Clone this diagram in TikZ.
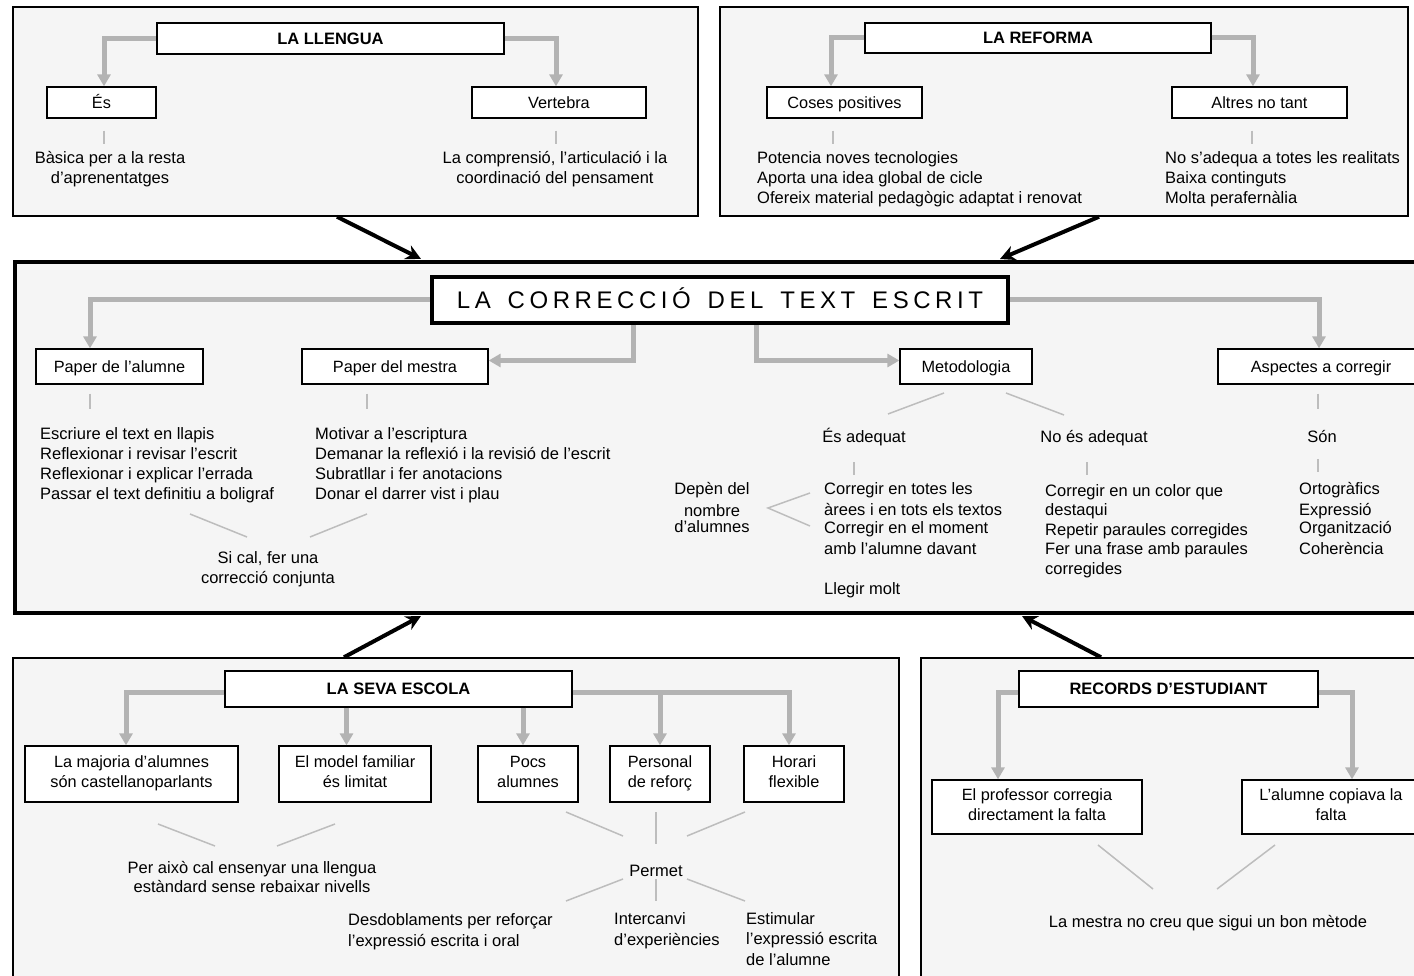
\documentclass[tikz,border=0pt]{standalone}
\usepackage{fontspec}
\setmainfont{Liberation Sans}
\newfontfamily\titlefont[LetterSpace=19,WordSpace=1.5]{Liberation Sans}
\usetikzlibrary{arrows.meta}

\definecolor{panelfill}{HTML}{F5F5F5}
\definecolor{branchgray}{HTML}{B3B3B3}
\definecolor{leadergray}{HTML}{BDBDBD}

\tikzset{
  panel/.style={draw=black, line width=1.5pt, fill=panelfill, inner sep=0pt},
  mainpanel/.style={draw=black, line width=4pt, fill=panelfill, inner sep=0pt},
  box/.style={draw=black, line width=1.3pt, fill=white, inner sep=0pt, align=center,
    font=\fontsize{16.3}{20}\selectfont,
    execute at begin node={\rule[-4pt]{0pt}{19.4pt}},
    execute at end node={\rule[-4pt]{0pt}{4pt}}},
  headbox/.style={box, font=\fontsize{16.5}{20}\selectfont\bfseries},
  titlebox/.style={draw=black, line width=4pt, fill=white, inner sep=0pt,
    font=\titlefont\fontsize{24}{28}\selectfont,
    execute at begin node={\rule[-5.8pt]{0pt}{28.8pt}}},
  branch/.style={draw=branchgray, line width=5pt, -{Triangle[length=12pt,width=13pt]}},
  leader/.style={draw=leadergray, line width=1.5pt},
  feed/.style={draw=black, line width=4pt, -{Stealth[length=15pt,width=15pt]}},
  body/.style={inner sep=0pt, font=\fontsize{16.5}{20}\selectfont,
    execute at begin node=\rule{0pt}{15pt}},
  tl/.style={body, anchor=north west, yshift=5.8pt, align=left},
  tc/.style={body, anchor=north, yshift=5.8pt, align=center},
}

\begin{document}
\begin{tikzpicture}[x=1pt, y=-1pt]
\useasboundingbox (0,0) rectangle (1414,976);
\clip (0,0) rectangle (1414,976);
\fill[white] (0,0) rectangle (1414,976);

% ---------- panels ----------
\node[panel, minimum width=685, minimum height=209] (pll) at (355.5,111.5) {};
\node[panel, minimum width=688, minimum height=209] (pref) at (1064,111.5) {};
\node[mainpanel, minimum width=1420, minimum height=351] (main) at (725,437.5) {};
\node[panel, minimum width=886, minimum height=332] (pesc) at (456,824) {};
\node[panel, minimum width=510, minimum height=332] (prec) at (1176,824) {};

% ---------- links between panels ----------
\draw[feed] ([xshift=-18.5pt]pll.south) -- ([xshift=-304pt,yshift=1pt]main.north);
\draw[feed] ([xshift=35pt]pref.south) -- ([xshift=275pt,yshift=1pt]main.north);
\draw[feed] ([xshift=-112pt]pesc.north) -- ([xshift=-304pt,yshift=-1pt]main.south);
\draw[feed] ([xshift=-75pt]prec.north) -- ([xshift=297pt,yshift=-1pt]main.south);

% ---------- LA LLENGUA ----------
\node[headbox, minimum width=347, minimum height=31] (llengua) at (330.5,38.5) {LA LLENGUA};
\node[box, minimum width=109, minimum height=31] (es) at (101.5,102.5) {És};
\node[box, minimum width=174, minimum height=31] (vert) at (559,102.5) {Vertebra};
\draw[branch] (llengua.west) -| ([xshift=2.5pt]es.north);
\draw[branch] (llengua.east) -| ([xshift=-3pt]vert.north);
\draw[leader] ([xshift=2.5pt,yshift=-12pt]es.south) -- ([xshift=2.5pt,yshift=-25pt]es.south);
\draw[leader] ([xshift=-3pt,yshift=-12pt]vert.south) -- ([xshift=-3pt,yshift=-25pt]vert.south);
\node[tc] (esT) at (110,157) {Bàsica per a la resta\\d’aprenentatges};
\node[tc] (vertT) at (555,157) {La comprensió, l’articulació i la\\coordinació del pensament};

% ---------- LA REFORMA ----------
\node[headbox, minimum width=346, minimum height=30] (reforma) at (1038,38) {LA REFORMA};
\node[box, minimum width=155, minimum height=31] (coses) at (844.5,102.5) {Coses positives};
\node[box, minimum width=175, minimum height=31] (altres) at (1259.5,102.5) {Altres no tant};
\draw[branch] (reforma.west) -| ([xshift=-13.5pt]coses.north);
\draw[branch] (reforma.east) -| ([xshift=-6.5pt]altres.north);
\draw[leader] ([xshift=-11.5pt,yshift=-12pt]coses.south) -- ([xshift=-11.5pt,yshift=-25pt]coses.south);
\draw[leader] ([xshift=-7.5pt,yshift=-12pt]altres.south) -- ([xshift=-7.5pt,yshift=-25pt]altres.south);
\node[tl] (cosesT) at (757,157) {Potencia noves tecnologies\\Aporta una idea global de cicle\\Ofereix material pedagògic adaptat i renovat};
\node[tl] (altresT) at (1165,157) {No s’adequa a totes les realitats\\Baixa continguts\\Molta perafernàlia};

% ---------- LA CORRECCIÓ DEL TEXT ESCRIT ----------
\node[titlebox, minimum width=576, minimum height=46] (title) at (720,300) {LA CORRECCIÓ DEL TEXT ESCRIT};
\node[box, minimum width=167, minimum height=35] (alumne) at (119.5,366.5) {Paper de l’alumne};
\node[box, minimum width=186, minimum height=35] (mestra) at (395,366.5) {Paper del mestra};
\node[box, minimum width=132, minimum height=35] (metod) at (966,366.5) {Metodologia};
\node[box, minimum width=206, minimum height=35] (aspect) at (1321,366.5) {Aspectes a corregir};

\draw[branch] (title.west) -| ([xshift=-29.5pt]alumne.north);
\draw[branch] ([xshift=-87pt]title.south) |- ([yshift=6pt]mestra.east);
\draw[branch] ([xshift=36pt]title.south) |- ([yshift=6pt]metod.west);
\draw[branch] (title.east) -| ([xshift=-2pt]aspect.north);

\draw[leader] ([xshift=-29.5pt,yshift=-9pt]alumne.south) -- ([xshift=-29.5pt,yshift=-24pt]alumne.south);
\draw[leader] ([xshift=-28pt,yshift=-9pt]mestra.south) -- ([xshift=-28pt,yshift=-24pt]mestra.south);
\node[tl] (alumneT) at (40,433) {Escriure el text en llapis\\Reflexionar i revisar l’escrit\\Reflexionar i explicar l’errada\\Passar el text definitiu a boligraf};
\node[tl] (mestraT) at (315,433) {Motivar a l’escriptura\\Demanar la reflexió i la revisió de l’escrit\\Subratllar i fer anotacions\\Donar el darrer vist i plau};
\draw[leader] (190,514) -- (247,537);
\draw[leader] (367,514) -- (310,537);
\node[tc] (conj) at (268,557) {Si cal, fer una\\correcció conjunta};

\draw[leader] (944,393) -- (888,414);
\draw[leader] (1006,393) -- (1064,415);
\node[tc] (adeq) at (864,433) {És adequat};
\node[tc] (noadeq) at (1094,433) {No és adequat};
\draw[leader] ([xshift=-10pt,yshift=-16pt]adeq.south) -- ([xshift=-10pt,yshift=-29pt]adeq.south);
\draw[leader] ([xshift=-7pt,yshift=-16pt]noadeq.south) -- ([xshift=-7pt,yshift=-29pt]noadeq.south);
\node[tl] (adeqT) at (824,488) {Corregir en totes les\\[1pt]àrees i en tots els textos\\[-2pt]Corregir en el moment\\[1pt]amb l’alumne davant\\[20pt]Llegir molt};
\node[tl, font=\fontsize{16.5}{19.5}\selectfont] (noadeqT) at (1045,490) {Corregir en un color que\\destaqui\\Repetir paraules corregides\\Fer una frase amb paraules\\corregides};
\node[tc] (depen) at (712,488) {Depèn del\\[2pt]nombre\\[-4pt]d’alumnes};
\draw[leader] (810,493) -- (768,508) -- (810,526);

\draw[leader] ([xshift=-3pt,yshift=-9pt]aspect.south) -- ([xshift=-3pt,yshift=-24pt]aspect.south);
\node[tc] (son) at (1322,433) {Són};
\draw[leader] ([xshift=-4pt,yshift=-16pt]son.south) -- ([xshift=-4pt,yshift=-29pt]son.south);
\node[tl] (sonT) at (1299,488) {Ortogràfics\\[1pt]Expressió\\[-2pt]Organització\\[1pt]Coherència};

% ---------- LA SEVA ESCOLA ----------
\node[headbox, minimum width=347, minimum height=36] (seva) at (398.5,689) {LA SEVA ESCOLA};
\node[box, minimum width=213, minimum height=56] (majoria) at (131.5,774) {La majoria d’alumnes\\són castellanoparlants};
\node[box, minimum width=152, minimum height=56] (model) at (355,774) {El model familiar\\és limitat};
\node[box, minimum width=100, minimum height=56] (pocs) at (528,774) {Pocs\\alumnes};
\node[box, minimum width=100, minimum height=56] (personal) at (660,774) {Personal\\de reforç};
\node[box, minimum width=100, minimum height=56] (horari) at (794,774) {Horari\\flexible};

\draw[branch] ([yshift=-3pt]seva.west) -| ([xshift=-5.5pt]majoria.north);
\draw[branch] ([xshift=-52pt]seva.south) -- ([xshift=-8.5pt]majoria.north -| model.north);
\draw[branch] ([xshift=124.5pt]seva.south) -- ([xshift=-5pt]pocs.north);
\draw[branch] ([yshift=-3pt]seva.east) -| ([xshift=-5pt]horari.north);
\draw[branch] ([yshift=-3pt]seva.east -| personal.north) -- (personal.north);

\draw[leader] (158,824) -- (215,846);
\draw[leader] (335,824) -- (277,846);
\node[tc, font=\fontsize{16.5}{19}\selectfont] (rebaix) at (252,867) {Per això cal ensenyar una llengua\\estàndard sense rebaixar nivells};

\draw[leader] (566,812) -- (623,836);
\draw[leader] (656,812) -- (656,844);
\draw[leader] (745,812) -- (687,836);
\node[tc] (permet) at (656,867) {Permet};
\draw[leader] (623,879) -- (566,901);
\draw[leader] (656,879) -- (656,901);
\draw[leader] (687,879) -- (745,901);
\node[tl, font=\fontsize{16.5}{21}\selectfont] (desd) at (348,919) {Desdoblaments per reforçar\\l’expressió escrita i oral};
\node[tl, font=\fontsize{16.5}{21}\selectfont] (inter) at (614,918) {Intercanvi\\d’experiències};
\node[tl, font=\fontsize{16.5}{20.5}\selectfont] (estim) at (746,918) {Estimular\\l’expressió escrita\\de l’alumne};

% ---------- RECORDS D'ESTUDIANT ----------
\node[headbox, minimum width=299, minimum height=36] (records) at (1168.5,689) {RECORDS D’ESTUDIANT};
\node[box, minimum width=210, minimum height=54] (prof) at (1037,807) {El professor corregia\\directament la falta};
\node[box, minimum width=178, minimum height=54] (lalum) at (1331,807) {L’alumne copiava la\\falta};
\draw[branch] ([yshift=-3pt]records.west) -| ([xshift=-39pt]prof.north);
\draw[branch] ([yshift=-3pt]records.east) -| ([xshift=21pt]lalum.north);
\draw[leader] (1098,845) -- (1153,889);
\draw[leader] (1275,845) -- (1217,889);
\node[tc] (metode) at (1208,918) {La mestra no creu que sigui un bon mètode};
\end{tikzpicture}
\end{document}
